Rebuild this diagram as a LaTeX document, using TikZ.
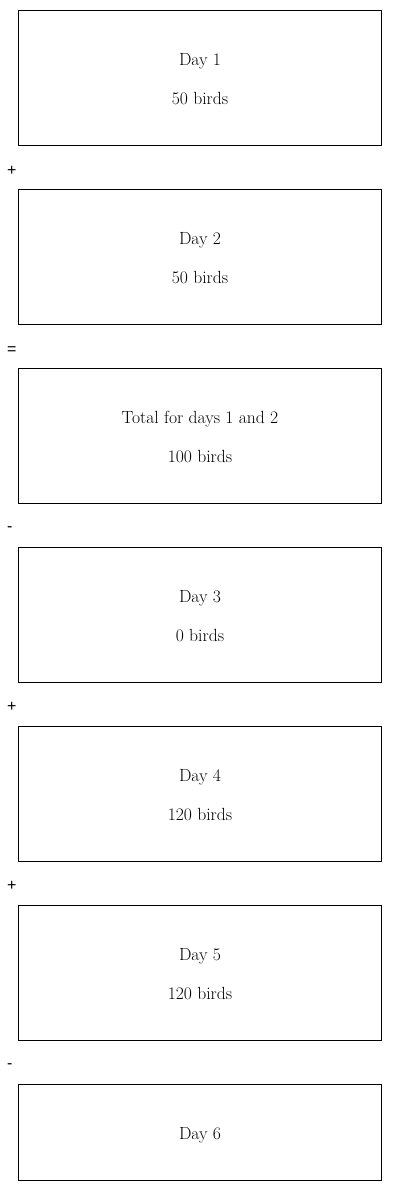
\documentclass[tikz,border=0pt]{standalone}
\usepackage{fontspec}
\newfontfamily\opfont{Liberation Sans}
\begin{document}
\begin{tikzpicture}[x=1pt,y=-1pt,
  daybox/.style={draw=black,line width=1pt,minimum width=363pt,inner sep=0pt,anchor=north},
  daytext/.style={font=\fontsize{17.6}{21}\selectfont,anchor=base,inner sep=0pt},
  optext/.style={font=\opfont\fontsize{16}{19}\selectfont,anchor=base west,inner sep=0pt}]
\useasboundingbox (0,0) rectangle (400,1191);
% boxes
\node[daybox,minimum height=135pt] (b1) at (200,9.7) {};
\node[daybox,minimum height=135pt] (b2) at (200,188.7) {};
\node[daybox,minimum height=135pt] (b3) at (200,367.7) {};
\node[daybox,minimum height=135pt] (b4) at (200,546.7) {};
\node[daybox,minimum height=135pt] (b5) at (200,725.7) {};
\node[daybox,minimum height=135pt] (b6) at (200,904.7) {};
\node[daybox,minimum height=96pt] (b7) at (200,1083.7) {};
% texts
\node[daytext] (t1a) at (200,65) {Day 1};
\node[daytext] (t1b) at (200,104) {50 birds};
\node[daytext] (t2a) at (200,244) {Day 2};
\node[daytext] (t2b) at (200,283) {50 birds};
\node[daytext] (t3a) at (200,423) {Total for days 1 and 2};
\node[daytext] (t3b) at (200,462) {100 birds};
\node[daytext] (t4a) at (200,602) {Day 3};
\node[daytext] (t4b) at (200,641) {0 birds};
\node[daytext] (t5a) at (200,781) {Day 4};
\node[daytext] (t5b) at (200,820) {120 birds};
\node[daytext] (t6a) at (200,960) {Day 5};
\node[daytext] (t6b) at (200,999) {120 birds};
\node[daytext] (t7a) at (200,1139) {Day 6};
% operators
\node[optext] (o1) at (7,175) {+};
\node[optext] (o2) at (7,354) {=};
\node[optext] (o3) at (7,531.5) {-};
\node[optext] (o4) at (7,711) {+};
\node[optext] (o5) at (7,890) {+};
\node[optext] (o6) at (7,1068.5) {-};
\end{tikzpicture}
\end{document}
